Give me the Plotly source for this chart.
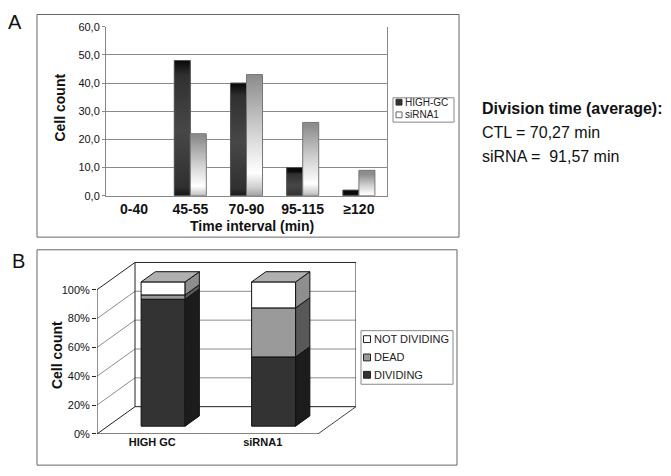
import plotly.graph_objects as go

# ---------------- data ----------------
# Panel A
intervals = ["0-40", "45-55", "70-90", "95-115", "≥120"]
high_gc = [0, 48, 40, 10, 2]
sirna1 = [0, 22, 43, 26, 9]
series_a = ["HIGH-GC", "siRNA1"]
a_yticks = [0, 10, 20, 30, 40, 50, 60]
a_yticktext = ["0,0", "10,0", "20,0", "30,0", "40,0", "50,0", "60,0"]

# Panel B (percent of cells)
conditions = ["HIGH GC", "siRNA1"]
dividing = [88, 48]
dead = [3, 34]
not_dividing = [9, 18]
series_b = ["DIVIDING", "DEAD", "NOT DIVIDING"]
b_yticks = [0, 20, 40, 60, 80, 100]
b_yticktext = ["0%", "20%", "40%", "60%", "80%", "100%"]

notes = ["Division time (average):", "CTL = 70,27 min", "siRNA = \u00a091,57 min"]

# ---------------- layout helpers ----------------
# the page body keeps an 8px margin, so the figure is sized to fill the rest
# of the 671x476 window and screen positions are mapped through that offset
OFF = 8
W, H = 671 - OFF, 476 - OFF
def px(x):
    return (x - OFF) / W
def py(y):
    return 1 - (y - OFF) / H

FONT = "Liberation Sans, Arial, sans-serif"
fig = go.Figure()

# ---------------- Panel A ----------------
BW_A = 0.285
grad_dark = [[0, "#0a0a0a"], [0.1, "#303030"], [0.5, "#474747"], [0.9, "#303030"], [1, "#0a0a0a"]]
grad_light = [[0, "#8a8a8a"], [0.1, "#cdcdcd"], [0.22, "#ffffff"], [0.55, "#d2d2d2"], [1, "#8c8c8c"]]

xs = list(range(len(intervals)))
fig.add_trace(go.Bar(x=xs, y=high_gc, name=series_a[0], offset=-BW_A, width=BW_A,
                     marker=dict(color="#3a3a3a", line=dict(width=0)),
                     xaxis="x", yaxis="y"))
fig.add_trace(go.Bar(x=xs, y=sirna1, name=series_a[1], offset=0, width=BW_A,
                     marker=dict(color="#d8d8d8", line=dict(width=0)),
                     xaxis="x", yaxis="y"))

for vals, off, cs, lc in [(high_gc, -BW_A, grad_dark, "#555"), (sirna1, 0.0, grad_light, "#777")]:
    for i, v in enumerate(vals):
        if v <= 0:
            continue
        x0, x1 = i + off, i + off + BW_A
        fig.add_trace(go.Scatter(
            x=[x0, x0, x1, x1, x0], y=[0, v, v, 0, 0], mode="lines",
            fill="toself", fillgradient=dict(type="vertical", colorscale=cs, start=0, stop=v),
            line=dict(color=lc, width=1), hoverinfo="skip", showlegend=False,
            xaxis="x", yaxis="y"))

# ---------------- Panel B (pseudo 3-D stacked bars) ----------------
PXU_X = 110.5          # px per category unit
PXU_Y = 1.48           # px per percent
DX = 38 / PXU_X        # full floor depth, x units
DY = 28 / PXU_Y        # full floor depth, y units
FO = 0.286             # bar front position (fraction of depth)
BD = 0.375             # bar depth (fraction of depth)
BW_B = 44 / PXU_X      # bar width
fx, fy = FO * DX, FO * DY
bx, by = BD * DX, BD * DY

front_col = {"DIVIDING": "#333333", "DEAD": "#9a9a9a", "NOT DIVIDING": "#ffffff"}
side_col = {"DIVIDING": "#1c1c1c", "DEAD": "#585858", "NOT DIVIDING": "#8e8e8e"}
top_col = {"DIVIDING": "#555555", "DEAD": "#b8b8b8", "NOT DIVIDING": "#b0b0b0"}
EDGE = "#111111"

b_values = {"DIVIDING": dividing, "DEAD": dead, "NOT DIVIDING": not_dividing}
cum = [0.0] * len(conditions)
xb = [i + fx for i in range(len(conditions))]
for s in series_b:
    vals = b_values[s]
    bases = [fy + c for c in cum]
    fig.add_trace(go.Bar(x=xb, y=vals, base=bases, width=BW_B, name=s,
                         marker=dict(color=front_col[s], line=dict(color=EDGE, width=1)),
                         xaxis="x2", yaxis="y2"))
    sx, sy = [], []
    for i, v in enumerate(vals):
        xr = xb[i] + BW_B / 2
        b0, t0 = bases[i], bases[i] + v
        sx += [xr, xr + bx, xr + bx, xr, xr, None]
        sy += [b0, b0 + by, t0 + by, t0, b0, None]
    fig.add_trace(go.Scatter(x=sx, y=sy, mode="lines", fill="toself", fillcolor=side_col[s],
                             line=dict(color=EDGE, width=1), hoverinfo="skip", showlegend=False,
                             xaxis="x2", yaxis="y2"))
    cum = [c + v for c, v in zip(cum, vals)]

# top faces
tx, ty = [], []
for i in range(len(conditions)):
    xl, xr = xb[i] - BW_B / 2, xb[i] + BW_B / 2
    T = fy + cum[i]
    tx += [xl, xr, xr + bx, xl + bx, xl, None]
    ty += [T, T, T + by, T + by, T, None]
fig.add_trace(go.Scatter(x=tx, y=ty, mode="lines", fill="toself", fillcolor=top_col[series_b[-1]],
                         line=dict(color=EDGE, width=1), hoverinfo="skip", showlegend=False,
                         xaxis="x2", yaxis="y2"))

# 3-D frame for panel B
shapes = []
XL, XR = -0.5, len(conditions) - 0.5
def seg(x0, y0, x1, y1, color, width=1, ref=("x2", "y2")):
    shapes.append(dict(type="line", xref=ref[0], yref=ref[1], x0=x0, y0=y0, x1=x1, y1=y1,
                       line=dict(color=color, width=width), layer="below"))
for v in b_yticks:
    edge = v in (b_yticks[0], b_yticks[-1])
    c = "#222" if edge else "#8c8c8c"
    seg(XL + DX, v + DY, XR + DX, v + DY, c)      # back wall
    seg(XL, v, XL + DX, v + DY, c)                # side wall
seg(XL + DX, DY, XL + DX, b_yticks[-1] + DY, "#222")
seg(XR + DX, DY, XR + DX, b_yticks[-1] + DY, "#222")
seg(XL, 0, XL, b_yticks[-1], "#222")
seg(XL, 0, XR, 0, "#222")
seg(XR, 0, XR + DX, DY, "#444")
for k in range(len(conditions) + 1):
    seg(XL + k, 0, XL + k, -4 / PXU_Y, "#222")

# panel frames
def rect(x0, y0, x1, y1, line="#666", fill=None):
    d = dict(type="rect", xref="paper", yref="paper", x0=px(x0), y0=py(y1), x1=px(x1), y1=py(y0),
             line=dict(color=line, width=1), layer="below")
    if fill:
        d["fillcolor"] = fill
    shapes.append(d)
rect(37, 8.5, 459, 237)
rect(37, 250, 457, 471)

# custom legends
annotations = []
def legend_item(xc, yc, size, fill, border, label, fsize):
    h = size / 2
    shapes.append(dict(type="rect", xref="paper", yref="paper", x0=px(xc - h), x1=px(xc + h),
                       y0=py(yc + h), y1=py(yc - h), fillcolor=fill,
                       line=dict(color=border, width=1), layer="above"))
    annotations.append(dict(text=label, x=px(xc + h + 1), y=py(yc), xref="paper", yref="paper",
                            xanchor="left", yanchor="middle", showarrow=False,
                            font=dict(size=fsize, family=FONT, color="#222")))

rect(393, 94, 454, 119, line="#888")
legend_item(399, 98.5, 6, "#333333", "#333333", series_a[0], 10)
legend_item(399, 111.5, 6, "#ffffff", "#666666", series_a[1], 10)

rect(361, 333, 453, 388, line="#888")
for s, yc in zip(series_b[::-1], [341.7, 360.5, 378.3]):
    legend_item(367, yc, 7, front_col[s], "#222", s, 11)

# titles / labels
def ann(text, x, y, size, bold=False, angle=0, xanchor="center"):
    annotations.append(dict(text=text, x=px(x), y=py(y), xref="paper", yref="paper",
                            xanchor=xanchor, yanchor="middle", showarrow=False, textangle=angle,
                            font=dict(size=size, family=FONT, color="#111",
                                      weight="bold" if bold else "normal")))
ann("A", 15, 16, 20)
ann("B", 18, 262, 20)
ann("Cell count", 60, 104, 14, bold=True, angle=-90)
ann("Time interval (min)", 252, 226, 14, bold=True)
ann("Cell count", 57, 358, 14, bold=True, angle=-90)
ann(notes[0], 480, 105, 16, bold=True, xanchor="left")
ann(notes[1], 480, 130, 16, xanchor="left")
ann(notes[2], 480, 154, 16, xanchor="left")

fig.update_layout(
    width=W, height=H, margin=dict(l=0, r=0, t=0, b=0),
    paper_bgcolor="white", plot_bgcolor="rgba(0,0,0,0)",
    barmode="overlay", showlegend=False,
    font=dict(family=FONT, color="#111"),
    shapes=shapes, annotations=annotations,
    xaxis=dict(domain=[px(106), px(387)], range=[-0.5, len(intervals) - 0.5], anchor="y",
               tickvals=xs, ticktext=intervals, tickfont=dict(size=14, weight="bold"),
               showline=True, linecolor="#888", showgrid=False, zeroline=False, ticks=""),
    yaxis=dict(domain=[py(194.5), py(21)], range=[0, 60], anchor="x",
               tickvals=a_yticks, ticktext=a_yticktext, tickfont=dict(size=11),
               showgrid=True, gridcolor="#8a8a8a", showline=True, mirror=True, linecolor="#888",
               ticks="outside", ticklen=3, tickcolor="#888", zeroline=False),
    xaxis2=dict(domain=[px(97), px(356)], range=[XL, XR + DX], anchor="y2",
                tickvals=list(range(len(conditions))), ticktext=conditions,
                tickfont=dict(size=11, weight="bold"),
                showline=False, showgrid=False, zeroline=False, ticks=""),
    yaxis2=dict(domain=[py(439), py(262)], range=[0, (439 - 262) / PXU_Y], anchor="x2",
                tickvals=b_yticks, ticktext=b_yticktext, tickfont=dict(size=11),
                showline=False, showgrid=False, zeroline=False,
                ticks="outside", ticklen=4, tickcolor="#222"),
)

fig.write_html("out.html")
